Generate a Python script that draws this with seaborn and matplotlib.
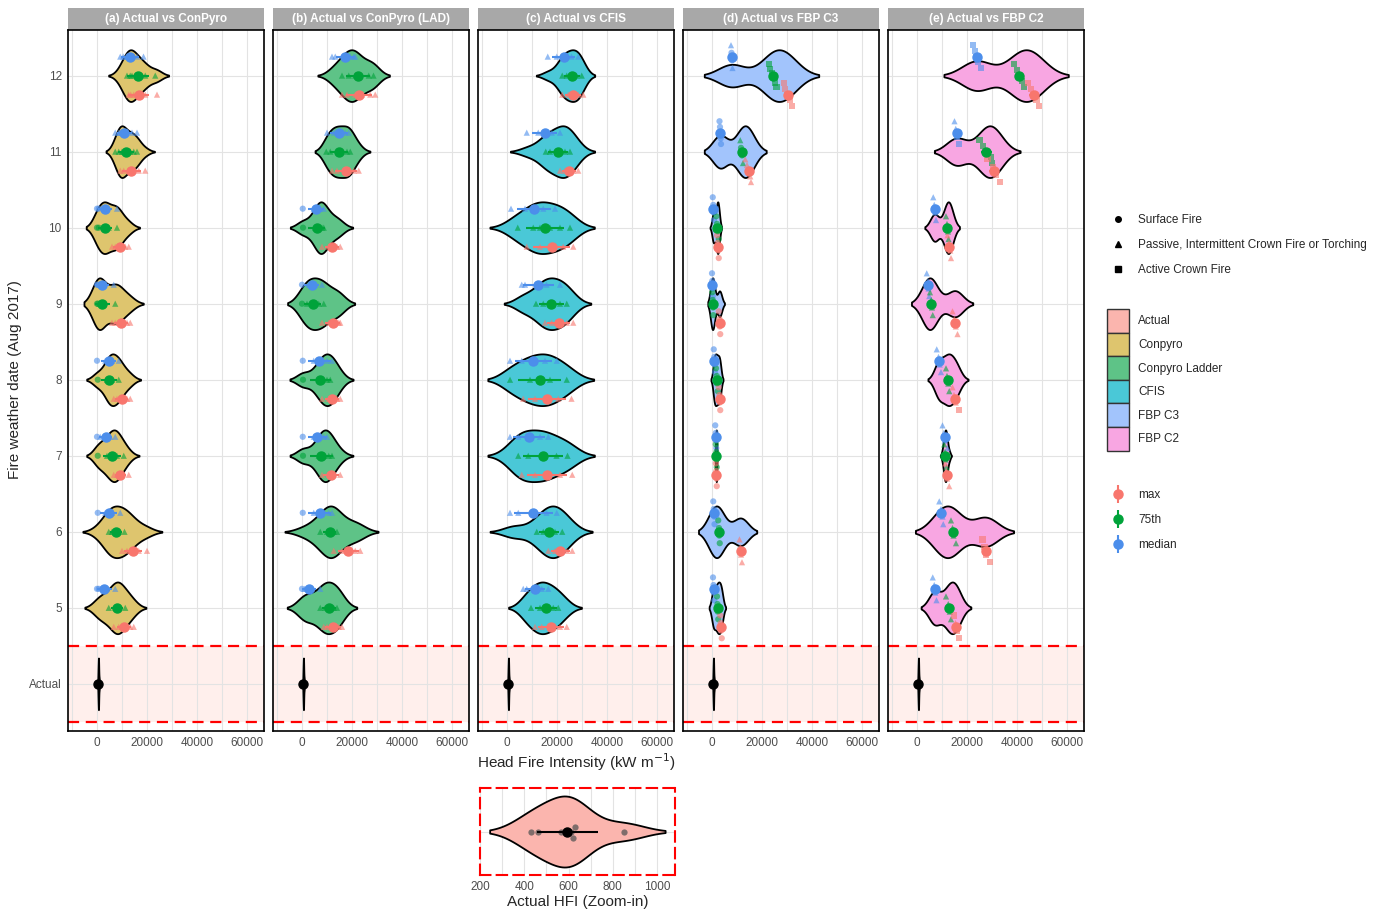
import warnings
import numpy as np
import pandas as pd
import seaborn as sns
import matplotlib.pyplot as plt
from matplotlib.lines import Line2D
from matplotlib.patches import Patch, Rectangle
from matplotlib.container import ErrorbarContainer
from matplotlib.legend_handler import HandlerErrorbar

warnings.filterwarnings("ignore")

sns.set_style("white")
plt.rcParams["font.family"] = ["Liberation Sans", "DejaVu Sans"]

# ---- data (HFI in kW/m) ----
dates = [12, 11, 10, 9, 8, 7, 6, 5]
stats = ["median", "75th", "max"]
actual_hfi = [430, 460, 565, 610, 620, 630, 850]

# fire type codes: c = surface, t = passive/torching, s = active crown
a_med = [[9300, 10500, 11700, 12500, 16000, 18600], [7300, 8700, 9300, 10000, 11300, 14000, 16000],
         [0, 700, 2700, 3300, 4000, 8000], [0, 300, 1000, 2000, 6700], [0, 3300, 4400, 5300, 6000, 8700],
         [0, 1300, 3300, 4000, 5300, 7300], [300, 3300, 4700, 6000, 9300], [0, 700, 2700, 4000, 7300]]
a_med_type = ["tttttt", "ttttttt", "cctttt", "ccttt", "cttttt", "cttttt", "ctttt", "ccttt"]
a_p75 = [[12000, 13300, 14000, 16500, 19300, 23300], [7300, 8700, 10000, 10700, 13300, 14700, 16000],
         [0, 700, 2700, 3300, 4700, 8000], [0, 400, 1000, 1700, 7300], [300, 4000, 5300, 6000, 8700],
         [300, 4000, 6000, 6700, 8000, 10700], [4700, 6000, 7300, 8700, 11000], [4700, 7300, 8000, 8700, 11300]]
a_p75_type = ["tttttt", "ttttttt", "cctttt", "ccttt", "ctttt", "cttttt", "ttttt", "ttttt"]
a_max = [[12700, 13500, 14700, 16000, 19300, 24000], [9300, 10700, 12700, 13300, 16700, 19300],
         [6000, 7300, 8300, 8700, 11300, 12700], [6000, 7300, 8700, 9300, 12000, 13300],
         [6700, 8000, 9000, 10000, 12000, 13300], [6700, 8000, 9300, 10000, 12700],
         [10000, 12000, 13300, 14000, 16700, 20000], [6700, 8700, 10000, 11300, 13300, 14700]]
a_max_type = ["tttttt", "tttttt", "tttttt", "tttttt", "tttttt", "ttttt", "tttttt", "tttttt"]

b_med = [[12000, 13300, 17300, 19300, 20700, 21300], [10000, 12700, 15000, 17300, 18700],
         [300, 4700, 6700, 7300, 8700], [0, 2700, 3600, 5300, 8000], [300, 4700, 7300, 10000, 12000],
         [300, 4700, 7000, 8700, 10000], [300, 4700, 7300, 10700, 12000], [0, 1000, 2000, 4000, 7300]]
b_med_type = ["tttttt", "ttttt", "ctttt", "ctttt", "ctttt", "ctttt", "ctttt", "ctttt"]
b_p75 = [[16000, 18700, 21300, 23300, 26700, 28600], [9700, 11300, 14700, 15300, 18000, 19300],
         [400, 5300, 6700, 8000, 8700], [0, 2000, 4000, 6700, 8700], [400, 6700, 8000, 10000, 11300],
         [400, 6700, 8700, 10700, 12000], [7300, 10000, 11000, 12700, 14000], [7300, 9300, 10700, 12700, 14000]]
b_p75_type = ["tttttt", "tttttt", "ctttt", "ctttt", "ctttt", "ctttt", "ttttt", "ttttt"]
b_max = [[16000, 18000, 21300, 24000, 27300, 29300], [12000, 14000, 18700, 20700, 22700],
         [8000, 10700, 12400, 14000, 15300], [8000, 10700, 12700, 14700, 15300],
         [8000, 10700, 12400, 14000, 15300], [8000, 10700, 12700, 15300],
         [12700, 16000, 19000, 21300, 23300], [8700, 10000, 12700, 14700, 16000]]
b_max_type = ["tttttt", "ttttt", "ttttt", "ttttt", "ttttt", "tttt", "ttttt", "ttttt"]

c_med = [[16300, 19900, 22500, 25800, 28500], [7900, 12500, 15600, 17900, 21200],
         [1600, 7200, 11900, 14500, 19200], [5900, 7200, 12500, 15800, 21200],
         [1200, 5900, 10500, 15200, 19900], [1200, 4500, 8500, 13200, 16500],
         [1200, 4500, 11200, 15800, 19900], [6500, 7900, 11200, 13900, 16500]]
c_med_type = ["ttttt"] * 8
c_p75 = [[22100, 23900, 26100, 27800, 29900], [15500, 17200, 20800, 23200, 25200],
         [4300, 10500, 13200, 17200, 21200, 25200], [11600, 14500, 17600, 21200, 23900],
         [1200, 9200, 13900, 17200, 23900], [4500, 8500, 14200, 19800, 24200],
         [11900, 14500, 16300, 19200, 22100], [9600, 13200, 15800, 18500, 20500]]
c_p75_type = ["ttttt", "ttttt", "tttttt", "ttttt", "ttttt", "ttttt", "ttttt", "ttttt"]
c_max = [[22100, 24500, 26500, 28500, 30500], [21200, 23200, 24800, 26500, 28500],
         [7900, 13200, 18900, 22500, 26500], [15200, 17900, 19900, 23900, 26500],
         [6500, 11200, 16300, 20500, 25800], [5900, 11200, 15800, 21200, 26100],
         [16500, 19200, 21200, 23900, 26100], [11200, 13900, 17900, 21200, 23900]]
c_max_type = ["ttttt"] * 8

d_med = [[7600, 7800, 8000, 8200], [3000, 3200, 3300, 3500, 3600], [300, 500, 700, 800],
         [0, 100, 200, 300], [700, 900, 1000, 1200], [1300, 1500, 1600, 1700],
         [500, 700, 900, 1000], [400, 600, 700, 900]]
d_med_type = ["tcct", "ccccc", "cccc", "cccc", "cccc", "cccc", "cccc", "cccc"]
d_p75 = [[22700, 23300, 24000, 24700, 25300, 25800], [11300, 11600, 12000, 12400], [1700, 2000, 2300, 2700],
         [100, 300, 400, 500], [1600, 1900, 2000, 2300], [1500, 1700, 1800, 1900],
         [2500, 2800, 2900, 3100], [2000, 2200, 2300, 2500]]
d_p75_type = ["ssssss", "tcct", "cccc", "cccc", "cccc", "cccc", "cccc", "cccc"]
d_max = [[28700, 29300, 30000, 31300, 32000], [13300, 14000, 14800, 15300, 15600], [2000, 2300, 2500, 2700],
         [2700, 3000, 3100, 3300], [2700, 3000, 3100, 3300], [1500, 1700, 1800, 1900],
         [11000, 11300, 11600, 12000], [3300, 3500, 3600, 3900]]
d_max_type = ["sssss", "ttttt", "cccc", "cccc", "cccc", "cccc", "tttt", "cccc"]

e_med = [[22500, 23300, 23800, 24500, 25500], [15000, 15500, 16000, 16900], [6500, 6900, 7200, 7600],
         [3900, 4400, 4600, 4900], [7900, 8600, 9100, 9600], [10200, 10700, 11100, 12200],
         [8900, 9600, 10200, 10500], [6300, 6900, 7300, 7800]]
e_med_type = ["sssss", "ttss", "tttt", "tttt", "tttt", "tttt", "tttt", "tttt"]
e_p75 = [[38900, 40000, 40900, 42000, 42800], [25000, 26500, 27800, 29500, 30000], [11600, 12000, 12400, 12600],
         [5200, 5700, 6000, 6300], [11600, 12000, 12500, 12900], [10900, 11200, 11500, 11800],
         [13600, 14200, 14600, 15600], [11600, 12500, 13100, 13600]]
e_p75_type = ["sssss", "sssss", "tttt", "tttt", "tttt", "tttt", "tttt", "tttt"]
e_max = [[44500, 45500, 46500, 47800, 48800], [28200, 30500, 31600, 33200], [12200, 12800, 13300, 13600],
         [14200, 14900, 15500, 16200], [14200, 14800, 15500, 16900], [11300, 11700, 12000, 12900],
         [26200, 27000, 27500, 29100], [14900, 15400, 15800, 16900]]
e_max_type = ["sssss", "ssss", "tttt", "tttt", "ttts", "tttt", "ssss", "stss"]

panel_titles = ["(a) Actual vs ConPyro", "(b) Actual vs ConPyro (LAD)", "(c) Actual vs CFIS",
                "(d) Actual vs FBP C3", "(e) Actual vs FBP C2"]
panel_models = ["Conpyro", "Conpyro Ladder", "CFIS", "FBP C3", "FBP C2"]
panel_data = [
    [(a_med, a_med_type), (a_p75, a_p75_type), (a_max, a_max_type)],
    [(b_med, b_med_type), (b_p75, b_p75_type), (b_max, b_max_type)],
    [(c_med, c_med_type), (c_p75, c_p75_type), (c_max, c_max_type)],
    [(d_med, d_med_type), (d_p75, d_p75_type), (d_max, d_max_type)],
    [(e_med, e_med_type), (e_p75, e_p75_type), (e_max, e_max_type)],
]

# ---- styles ----
fills = {"Actual": "#FBB5AE", "Conpyro": "#DEC56E", "Conpyro Ladder": "#5EC387",
         "CFIS": "#4AC8D7", "FBP C3": "#A2C4FC", "FBP C2": "#F8A6E2"}
stat_colors = {"max": "#F8766D", "75th": "#00A33A", "median": "#4C8EEB"}
stat_offset = {"median": 0.25, "75th": 0.0, "max": -0.25}
markers = {"c": "o", "t": "^", "s": "s"}
spread_panels = ["FBP C3", "FBP C2"]   # these panels show points spread vertically

# long table
rows = []
for model, groups in zip(panel_models, panel_data):
    for stat, (vals, types) in zip(stats, groups):
        for date, v_list, t_list in zip(dates, vals, types):
            assert len(v_list) == len(t_list)
            n = len(v_list)
            spread = np.linspace(0.15, -0.15, n) if model in spread_panels else np.zeros(n)
            for v, t, dy in zip(v_list, t_list, spread):
                rows.append(dict(model=model, date=date, stat=stat, hfi=v, ftype=t,
                                 ypos=date + stat_offset[stat] + dy))
df = pd.DataFrame(rows)
act = pd.DataFrame({"hfi": actual_hfi, "y": 4.0, "src": "Actual"})

W, H = 1386, 909
fig = plt.figure(figsize=(W / 100, H / 100), dpi=100)
lefts = [68, 273, 478, 683, 888]
tick_col = "#4D4D4D"

for i, (left, title, model) in enumerate(zip(lefts, panel_titles, panel_models)):
    ax = fig.add_axes([left / W, 1 - 731 / H, 196 / W, 701 / H])
    sub = df[df["model"] == model]

    ax.axhspan(3.5, 4.5, color="#FFEFEC", zorder=0.5, lw=0)
    for yl in (3.5, 4.5):
        ax.axhline(yl, color="red", ls=(0, (5, 3)), lw=1.6, zorder=1)

    vdf = pd.concat([pd.DataFrame({"hfi": sub["hfi"], "y": sub["date"].astype(float), "src": model}), act])
    sns.violinplot(data=vdf, x="hfi", y="y", hue="src", palette={model: fills[model], "Actual": fills["Actual"]},
                   orient="y", native_scale=True, dodge=False, inner=None, density_norm="width",
                   width=0.68, linewidth=1.3, linecolor="black", saturation=1, legend=False, ax=ax)

    sns.scatterplot(data=sub, x="hfi", y="ypos", hue="stat", style="ftype", palette=stat_colors,
                    markers=markers, s=20, alpha=0.6, linewidth=0, legend=False, ax=ax, zorder=4)

    # mean +/- sd pointranges
    for (date, stat), g in sub.groupby(["date", "stat"]):
        ax.errorbar(g["hfi"].mean(), date + stat_offset[stat], xerr=g["hfi"].std(), fmt="o",
                    color=stat_colors[stat], ms=6.5, elinewidth=1.5, capsize=0, zorder=6)
    ax.errorbar(np.mean(actual_hfi), 4, xerr=np.std(actual_hfi, ddof=1), fmt="o", color="black",
                ms=6.5, elinewidth=1.5, capsize=0, zorder=6)

    ax.set_xlim(-11600, 66800)
    ax.set_ylim(3.38, 12.6)
    ax.set_xticks([0, 20000, 40000, 60000])
    ax.set_xticklabels(["0", "20000", "40000", "60000"])
    ax.set_xticks([-10000, 10000, 30000, 50000], minor=True)
    ax.set_yticks(range(4, 13))
    if i == 0:
        ax.set_yticklabels(["Actual"] + [str(d) for d in range(5, 13)])
    else:
        ax.set_yticklabels([])
    ax.tick_params(axis="both", which="major", labelsize=8.5, labelcolor=tick_col, color="#555555",
                   length=2.5, width=0.7, pad=2)
    ax.tick_params(axis="y", length=2.5 if i == 0 else 0)
    ax.tick_params(which="minor", length=0)
    ax.grid(True, which="both", color="#E3E3E3", lw=0.8)
    ax.set_axisbelow(True)
    ax.set_xlabel("")
    ax.set_ylabel("")
    for sp in ax.spines.values():
        sp.set_color("black")
        sp.set_linewidth(1.2)

    # facet strip
    sh = 22 / 701
    ax.add_patch(Rectangle((0, 1), 1, sh, transform=ax.transAxes, facecolor="#A8A8A8",
                           edgecolor="none", clip_on=False))
    ax.text(0.5, 1 + sh / 2, title, transform=ax.transAxes, ha="center", va="center",
            color="white", fontsize=8.5, fontweight="bold")
    last_ax = ax

fig.text(15 / W, 1 - 380 / H, "Fire weather date (Aug 2017)", rotation=90, ha="center", va="center", fontsize=11)
fig.text(576 / W, 1 - 762 / H, "Head Fire Intensity (kW m$^{-1}$)", ha="center", va="center", fontsize=11)

# ---- zoom-in inset of actual HFI ----
ix = fig.add_axes([480 / W, 1 - 875 / H, 195 / W, 87 / H])
adf = pd.DataFrame({"hfi": actual_hfi, "y": 0.0})
sns.violinplot(data=adf, x="hfi", y="y", orient="y", native_scale=True, color=fills["Actual"],
               inner=None, width=0.98, linewidth=1.3, linecolor="black", saturation=1, ax=ix)
sns.swarmplot(data=adf, x="hfi", y="y", orient="y", native_scale=True, color="#555555",
              alpha=0.75, size=4.5, ax=ix, zorder=4)
ix.errorbar(np.mean(actual_hfi), 0, xerr=np.std(actual_hfi, ddof=1), fmt="o", color="black",
            ms=6.5, elinewidth=1.5, capsize=0, zorder=6)
ix.set_xlim(200, 1081)
ix.set_ylim(-0.6, 0.6)
ix.set_xticks([200, 400, 600, 800, 1000])
ix.set_xticks([300, 500, 700, 900], minor=True)
ix.set_yticks([0])
ix.set_yticklabels([])
ix.grid(True, which="both", color="#E3E3E3", lw=0.8)
ix.set_axisbelow(True)
ix.tick_params(axis="both", which="major", labelsize=8.5, labelcolor=tick_col, color="#555555",
               length=2.5, width=0.7, pad=2)
ix.tick_params(which="minor", length=0)
ix.set_ylabel("")
ix.set_xlabel("Actual HFI (Zoom-in)", fontsize=11, labelpad=1)
for sp in ix.spines.values():
    sp.set_color("red")
    sp.set_linestyle((0, (5, 3)))
    sp.set_linewidth(1.5)

# ---- legends ----
fs = 8.5
fpx = fs * 100 / 72
shape_handles = [Line2D([], [], marker=m, color="black", ls="", ms=4) for m in ["o", "^", "s"]]
shape_labels = ["Surface Fire", "Passive, Intermittent Crown Fire or Torching", "Active Crown Fire"]
fig.legend(shape_handles, shape_labels, loc="upper left",
           bbox_to_anchor=((1118 - 0.7 * fpx) / W, 1 - 214 / H), frameon=False, fontsize=fs,
           borderpad=0, borderaxespad=0, handlelength=1.4, handletextpad=1.0, labelspacing=1.1)

fill_order = ["Actual", "Conpyro", "Conpyro Ladder", "CFIS", "FBP C3", "FBP C2"]
fill_handles = [Patch(facecolor=fills[k], edgecolor="#333333", lw=1) for k in fill_order]
fig.legend(fill_handles, fill_order, loc="upper left", bbox_to_anchor=(1107 / W, 1 - 309 / H),
           frameon=False, fontsize=fs, borderpad=0, borderaxespad=0, handlelength=1.87,
           handleheight=2.7, handletextpad=0.76, labelspacing=0)

stat_order = ["max", "75th", "median"]
stat_handles = [last_ax.errorbar([np.nan], [np.nan], yerr=[0.1], fmt="o", color=stat_colors[s], ms=6.5,
                                 elinewidth=1.5, capsize=0) for s in stat_order]
fig.legend(stat_handles, stat_order, loc="upper left",
           bbox_to_anchor=((1118 - 0.7 * fpx) / W, 1 - 489 / H), frameon=False, fontsize=fs,
           borderpad=0, borderaxespad=0, handlelength=1.4, handletextpad=1.0, labelspacing=1.1,
           handler_map={ErrorbarContainer: HandlerErrorbar(yerr_size=0.75, numpoints=1)})

fig.savefig("out.png", dpi=100)
